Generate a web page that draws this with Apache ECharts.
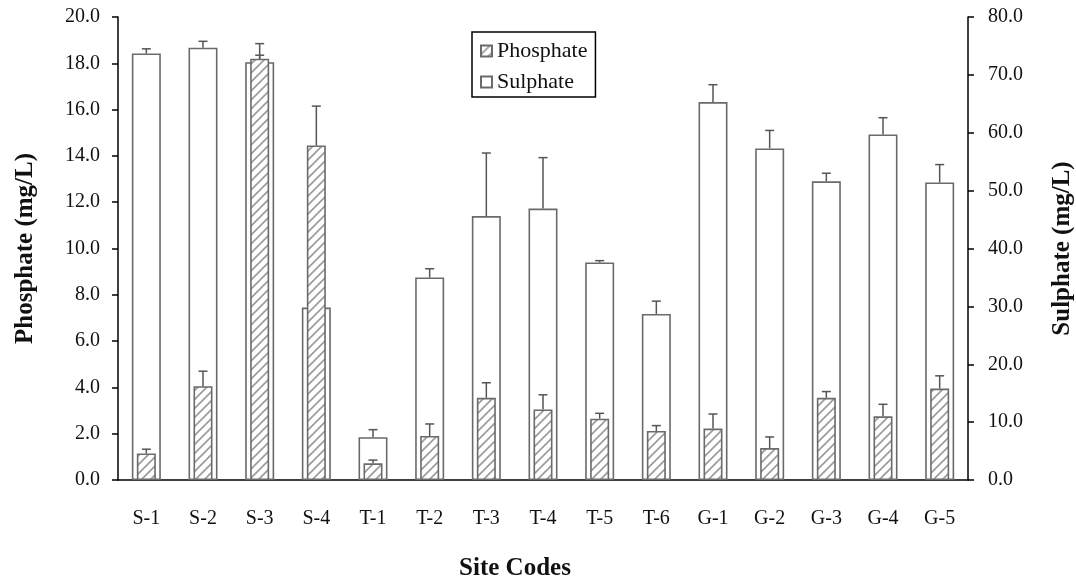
<!DOCTYPE html>
<html>
<head>
<meta charset="utf-8">
<script src="https://cdn.jsdelivr.net/npm/echarts@6/dist/echarts.min.js"></script>
<style>
  html, body { margin: 0; padding: 0; background: #fff; }
  #chart { width: 1076px; height: 581px; }
</style>
</head>
<body>
<div id="chart"></div>
<script>
var sites = ['S-1', 'S-2', 'S-3', 'S-4', 'T-1', 'T-2', 'T-3', 'T-4', 'T-5', 'T-6', 'G-1', 'G-2', 'G-3', 'G-4', 'G-5'];
var phosphate = [1.15, 4.05, 18.2, 14.45, 0.72, 1.9, 3.55, 3.05, 2.65, 2.12, 2.22, 1.38, 3.55, 2.75, 3.95];
var phosphateErr = [0.18, 0.65, 0.65, 1.7, 0.14, 0.52, 0.65, 0.63, 0.23, 0.23, 0.63, 0.48, 0.27, 0.52, 0.55];
var sulphate = [73.7, 74.7, 72.2, 29.8, 7.4, 35.0, 45.6, 46.9, 37.6, 28.7, 65.3, 57.3, 51.6, 59.7, 51.4];
var sulphateErr = [0.8, 1.1, 1.2, 4.0, 1.3, 1.5, 10.9, 8.8, 0.3, 2.2, 3.0, 3.1, 1.4, 2.9, 3.1];
var phosTicks = [0, 20, 2];   // min, max, step
var sulTicks = [0, 80, 10];

var FONT = 'Liberation Serif';

// diagonal hatch for the phosphate bars
var hatch = document.createElement('canvas');
hatch.width = 9; hatch.height = 9;
(function () {
    var c = hatch.getContext('2d');
    c.fillStyle = '#fff';
    c.fillRect(0, 0, 9, 9);
    c.strokeStyle = '#9c9c9c';
    c.lineWidth = 1.7;
    c.beginPath();
    c.moveTo(-1, 10); c.lineTo(10, -1);
    c.moveTo(-1, 1); c.lineTo(1, -1);
    c.moveTo(8, 10); c.lineTo(10, 8);
    c.stroke();
})();

function errData(vals, errs) {
    return vals.map(function (v, i) { return [i, v, v + errs[i]]; });
}

function renderErr(params, api) {
    var base = api.coord([api.value(0), api.value(1)]);
    var top = api.coord([api.value(0), api.value(2)]);
    var st = { stroke: '#555', lineWidth: 1.5 };
    return {
        type: 'group',
        children: [
            { type: 'line', shape: { x1: base[0], y1: base[1], x2: base[0], y2: top[1] }, style: st },
            { type: 'line', shape: { x1: base[0] - 4.5, y1: top[1], x2: base[0] + 4.5, y2: top[1] }, style: st }
        ]
    };
}

var chart = echarts.init(document.getElementById('chart'));
var axisText = { fontFamily: FONT, fontSize: 20, color: '#111' };
var nameText = { fontFamily: FONT, fontSize: 25, fontWeight: 'bold', color: '#111' };

var option = {
    animation: false,
    textStyle: { fontFamily: FONT },
    grid: { left: 118, right: 108, top: 17, bottom: 101, outerBoundsMode: 'none' },
    legend: {
        data: ['Phosphate', 'Sulphate'],
        orient: 'vertical',
        left: 472,
        top: 32,
        icon: 'rect',
        itemWidth: 11,
        itemHeight: 11,
        itemGap: 9,
        padding: [8, 8, 4, 8],
        borderColor: '#000',
        borderWidth: 1.5,
        backgroundColor: '#fff',
        textStyle: { fontFamily: FONT, fontSize: 22, color: '#111' }
    },
    xAxis: [{
        type: 'category',
        data: sites,
        name: 'Site Codes',
        nameLocation: 'middle',
        nameGap: 76,
        nameTextStyle: Object.assign({ padding: [0, 56, 0, 0] }, nameText),
        axisLine: { lineStyle: { color: '#000', width: 1.5 } },
        axisTick: { length: 6, lineStyle: { color: '#000', width: 1.5 } },
        axisLabel: Object.assign({ margin: 29 }, axisText)
    }, {
        type: 'category',
        data: sites,
        show: false
    }],
    yAxis: [{
        type: 'value',
        min: phosTicks[0], max: phosTicks[1], interval: phosTicks[2],
        name: 'Phosphate (mg/L)',
        nameLocation: 'middle',
        nameRotate: 90,
        nameGap: 80,
        nameTextStyle: nameText,
        axisLine: { show: true, lineStyle: { color: '#000', width: 1.5 } },
        axisTick: { show: true, length: 6, lineStyle: { color: '#000', width: 1.5 } },
        splitLine: { show: false },
        axisLabel: Object.assign({ margin: 18, formatter: function (v) { return v.toFixed(1); } }, axisText)
    }, {
        type: 'value',
        position: 'right',
        min: sulTicks[0], max: sulTicks[1], interval: sulTicks[2],
        name: 'Sulphate (mg/L)',
        nameLocation: 'middle',
        nameRotate: 90,
        nameGap: 82,
        nameTextStyle: nameText,
        axisLine: { show: true, lineStyle: { color: '#000', width: 1.5 } },
        axisTick: { show: true, length: 6, lineStyle: { color: '#000', width: 1.5 } },
        splitLine: { show: false },
        axisLabel: Object.assign({ margin: 20, formatter: function (v) { return v.toFixed(1); } }, axisText)
    }],
    series: [{
        name: 'Sulphate',
        type: 'bar',
        xAxisIndex: 0,
        yAxisIndex: 1,
        barWidth: 29,
        data: sulphate,
        itemStyle: { color: '#fff', borderColor: '#6a6a6a', borderWidth: 1.6 }
    }, {
        type: 'custom',
        xAxisIndex: 0,
        yAxisIndex: 1,
        renderItem: renderErr,
        data: errData(sulphate, sulphateErr),
        z: 3
    }, {
        name: 'Phosphate',
        type: 'bar',
        xAxisIndex: 1,
        yAxisIndex: 0,
        barWidth: 19,
        data: phosphate,
        z: 4,
        itemStyle: { color: { image: hatch, repeat: 'repeat' }, borderColor: '#6a6a6a', borderWidth: 1.6 }
    }, {
        type: 'custom',
        xAxisIndex: 1,
        yAxisIndex: 0,
        renderItem: renderErr,
        data: errData(phosphate, phosphateErr),
        z: 5
    }]
};
chart.setOption(option);
</script>
</body>
</html>
